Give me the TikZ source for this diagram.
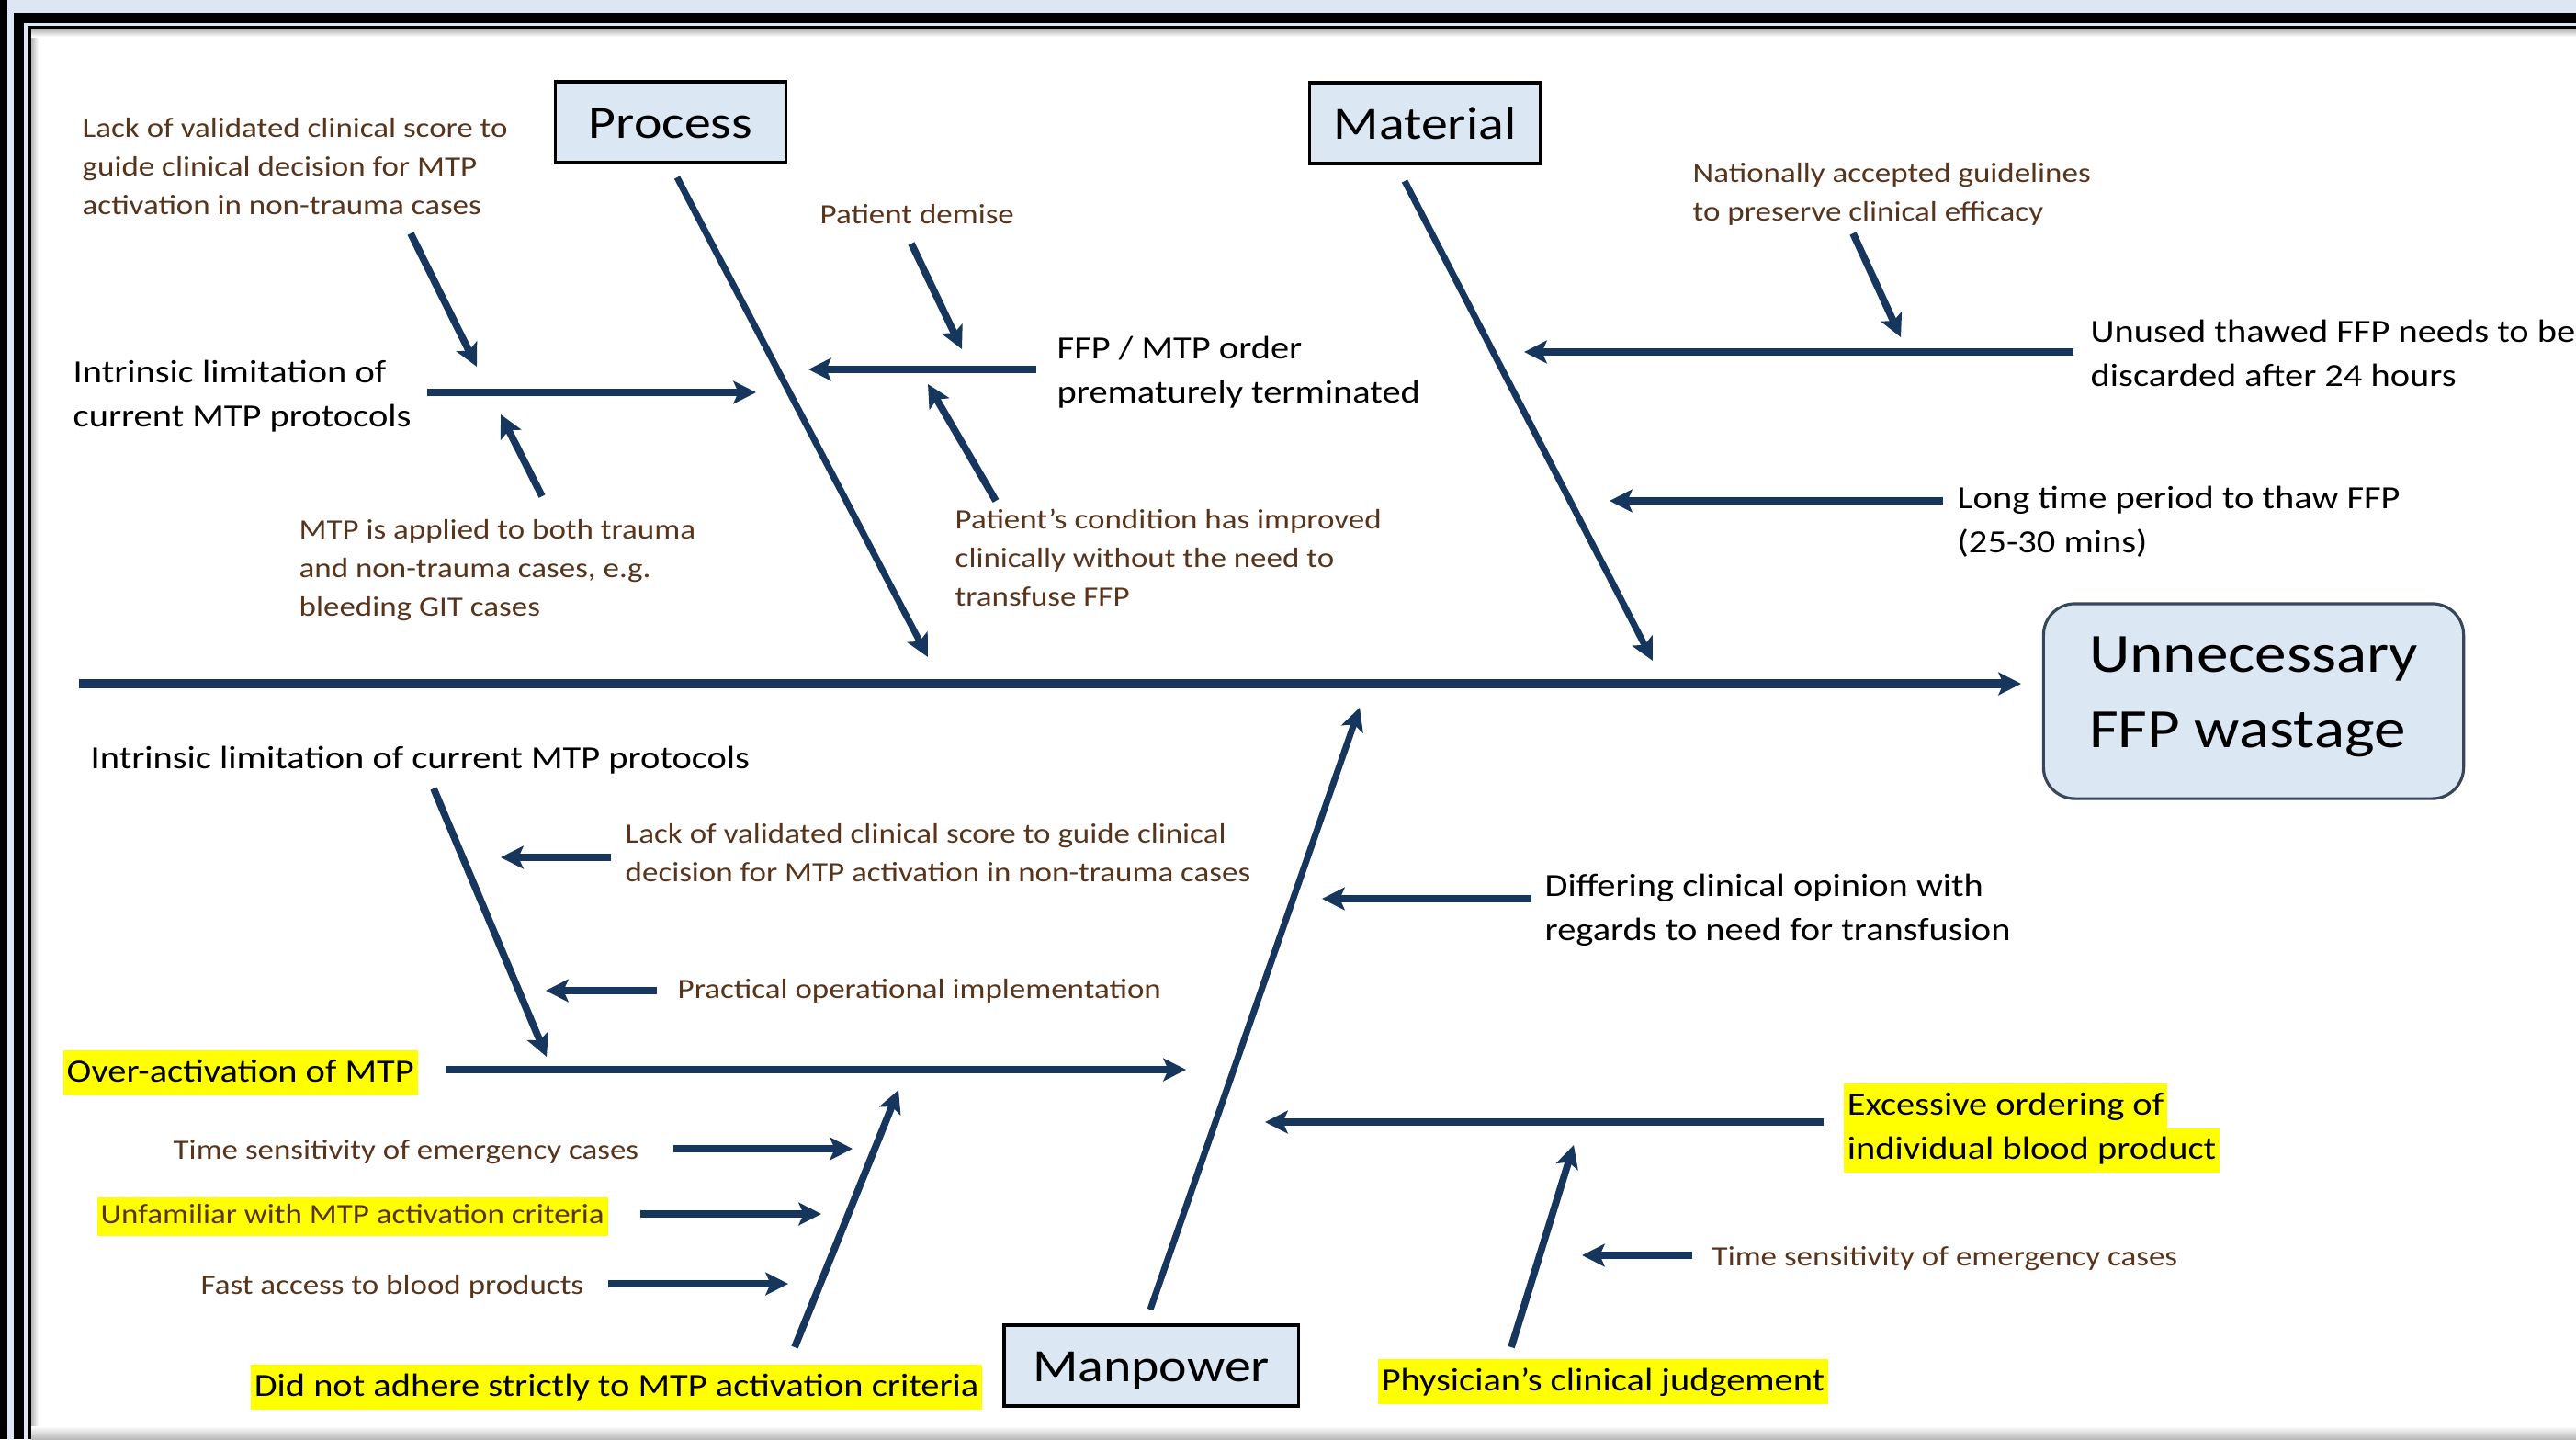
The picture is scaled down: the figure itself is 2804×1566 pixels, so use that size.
\documentclass[tikz,border=0pt]{standalone}
\usepackage{fontspec}
\setmainfont{Carlito}
\usepackage{graphicx}
\usetikzlibrary{arrows.meta}

\definecolor{bonenavy}{RGB}{23,54,93}
\definecolor{subbrown}{RGB}{88,52,28}
\definecolor{boxblue}{RGB}{220,231,244}
\definecolor{frameblue}{RGB}{221,231,243}
\definecolor{hlyellow}{RGB}{255,255,0}
\definecolor{effectline}{RGB}{55,70,88}

\newcommand{\causefont}{\fontsize{10}{13.7}\selectfont}
\newcommand{\subfont}{\fontsize{8.65}{11.95}\selectfont}
\newcommand{\catfont}{\fontsize{14.3}{17}\selectfont}
\newcommand{\effectfont}{\fontsize{17.1}{23.3}\selectfont}
\newcommand{\wtxt}[2][c]{\scalebox{1.15}[1]{\begin{tabular}[#1]{@{}l@{}}#2\end{tabular}}}
\newcommand{\hl}[1]{{\setlength{\fboxsep}{0pt}\colorbox{hlyellow}{\strut\hspace{1pt}#1\hspace{1pt}}}}

\begin{document}
\begin{tikzpicture}[x=0.01cm,y=-0.01cm,
    >={Stealth[length=7pt,width=7pt,inset=1.5pt]},
    spine/.style={draw=bonenavy,line width=2.6pt,->},
    bone/.style={draw=bonenavy,line width=2pt,->},
    arr/.style={draw=bonenavy,line width=2.2pt,->},
    causetxt/.style={font=\causefont,text=black,inner sep=0pt,anchor=west,yshift=-1pt},
    subtxt/.style={font=\subfont,text=subbrown,inner sep=0pt,anchor=west,yshift=-1pt},
    catbox/.style={draw=black,line width=0.9pt,fill=boxblue,font=\catfont,
                   text height=13.4pt,text depth=3.6pt,
                   minimum width=2.51cm,minimum height=0.88cm,inner sep=0pt},
    effectbox/.style={draw=effectline,line width=0.9pt,fill=boxblue,font=\effectfont,
                   text height=14.3pt,text depth=32.3pt,
                   rounded corners=0.34cm,minimum width=4.57cm,minimum height=2.12cm,inner sep=0pt}]
    \useasboundingbox (0,0) rectangle (2804,1566);

    % frame
    \fill[frameblue] (0,0) rectangle (2804,1566);
    \fill[black] (0,0) rectangle (8,1566);
    \fill[black] (15,14) rectangle (2804,25);
    \fill[black] (15,14) rectangle (26,1566);
    \fill[black] (30,28) rectangle (2804,32);
    \fill[black] (30,28) rectangle (34,1566);
    \fill[white] (34,32) rectangle (2804,1566);
    \shade[left color=gray!55,right color=white] (34,32) rectangle (42,1566);
    \shade[top color=gray!55,bottom color=white] (34,32) rectangle (2804,40);
    \shade[top color=white,bottom color=gray!55] (34,1552) rectangle (2804,1566);

    % head and categories
    \node[catbox] (process) at (730,133) {\wtxt[t]{Process}};
    \node[catbox] (material) at (1551,134) {\wtxt[t]{Material}};
    \node[catbox,minimum width=3.2cm] (manpower) at (1253,1486) {\wtxt[t]{Manpower}};
    \node[effectbox] (effect) at (2453,763) {\wtxt[t]{Unnecessary\\FFP wastage}};

    % process causes
    \node[subtxt] (p1a) at (89,180) {\wtxt{Lack of validated clinical score to\\guide clinical decision for MTP\\activation in non-trauma cases}};
    \node[causetxt] (p1) at (79,427) {\wtxt{Intrinsic limitation of\\current MTP protocols}};
    \node[subtxt] (p1b) at (325,617) {\wtxt{MTP is applied to both trauma\\and non-trauma cases, e.g.\\bleeding GIT cases}};
    \node[subtxt] (p2a) at (892,232) {\wtxt{Patient demise}};
    \node[causetxt] (p2) at (1150,401) {\wtxt{FFP / MTP order\\prematurely terminated}};
    \node[subtxt] (p2b) at (1039,606) {\wtxt{Patient’s condition has improved\\clinically without the need to\\transfuse FFP}};

    % material causes
    \node[subtxt] (m1a) at (1842,208) {\wtxt{Nationally accepted guidelines\\to preserve clinical efficacy}};
    \node[causetxt] (m1) at (2275,383) {\wtxt{Unused thawed FFP needs to be\\discarded after 24 hours}};
    \node[causetxt] (m2) at (2130,564) {\wtxt{Long time period to thaw FFP\\(25-30 mins)}};

    % manpower causes
    \node[causetxt] (mp1a) at (98,823) {\wtxt{Intrinsic limitation of current MTP protocols}};
    \node[subtxt] (mp1aa) at (680,927) {\wtxt{Lack of validated clinical score to guide clinical\\decision for MTP activation in non-trauma cases}};
    \node[subtxt] (mp1ab) at (737,1075) {\wtxt{Practical operational implementation}};
    \node[causetxt] (mp1) at (68,1164) {\wtxt{\hl{Over-activation of MTP}}};
    \node[subtxt] (mp1ba) at (188,1250) {\wtxt{Time sensitivity of emergency cases}};
    \node[subtxt] (mp1bb) at (105,1320) {\wtxt{\hl{Unfamiliar with MTP activation criteria}}};
    \node[subtxt] (mp1bc) at (218,1397) {\wtxt{Fast access to blood products}};
    \node[causetxt] (mp1b) at (272,1506) {\wtxt{\hl{Did not adhere strictly to MTP activation criteria}}};
    \node[causetxt] (mp2) at (1681,986) {\wtxt{Differing clinical opinion with\\regards to need for transfusion}};
    \node[causetxt] (mp3) at (2006,1224) {\wtxt{\hl{Excessive ordering of}\\\hl{individual blood product}}};
    \node[subtxt] (mp3aa) at (1863,1366) {\wtxt{Time sensitivity of emergency cases}};
    \node[causetxt] (mp3a) at (1499,1500) {\wtxt{\hl{Physician’s clinical judgement}}};

    % arrow ends
    \coordinate (spineS) at (86,744);
    \coordinate (spineE) at (2200,744);
    \coordinate (processS) at (737,193);
    \coordinate (processE) at (1010,715);
    \coordinate (materialS) at (1529,197);
    \coordinate (materialE) at (1799,719);
    \coordinate (manpowerS) at (1252,1425);
    \coordinate (manpowerE) at (1480,770);
    \coordinate (p1S) at (465,427);
    \coordinate (p1E) at (823,427);
    \coordinate (p1aS) at (447,254);
    \coordinate (p1aE) at (519,399);
    \coordinate (p1bS) at (590,540);
    \coordinate (p1bE) at (545,451);
    \coordinate (p2S) at (1128,402);
    \coordinate (p2E) at (880,402);
    \coordinate (p2aS) at (992,265);
    \coordinate (p2aE) at (1047,380);
    \coordinate (p2bS) at (1084,545);
    \coordinate (p2bE) at (1010,418);
    \coordinate (m1S) at (2257,383);
    \coordinate (m1E) at (1659,383);
    \coordinate (m1aS) at (2017,254);
    \coordinate (m1aE) at (2069,367);
    \coordinate (m2S) at (2115,545);
    \coordinate (m2E) at (1752,545);
    \coordinate (mp1S) at (485,1164);
    \coordinate (mp1E) at (1291,1164);
    \coordinate (mp1aS) at (472,858);
    \coordinate (mp1aE) at (595,1150);
    \coordinate (mp1aaS) at (665,933);
    \coordinate (mp1aaE) at (545,933);
    \coordinate (mp1abS) at (715,1078);
    \coordinate (mp1abE) at (594,1078);
    \coordinate (mp1bS) at (865,1466);
    \coordinate (mp1bE) at (978,1186);
    \coordinate (mp1baS) at (733,1250);
    \coordinate (mp1baE) at (928,1250);
    \coordinate (mp1bbS) at (697,1321);
    \coordinate (mp1bbE) at (894,1321);
    \coordinate (mp1bcS) at (662,1397);
    \coordinate (mp1bcE) at (858,1397);
    \coordinate (mp2S) at (1667,978);
    \coordinate (mp2E) at (1439,978);
    \coordinate (mp3S) at (1985,1221);
    \coordinate (mp3E) at (1377,1221);
    \coordinate (mp3aS) at (1645,1466);
    \coordinate (mp3aE) at (1713,1246);
    \coordinate (mp3aaS) at (1842,1366);
    \coordinate (mp3aaE) at (1722,1366);

    % connectors
    \draw[spine] (spineS) -- (spineE);
    \draw[bone] (processS) -- (processE);
    \draw[bone] (materialS) -- (materialE);
    \draw[bone] (manpowerS) -- (manpowerE);
    \draw[arr] (p1S) -- (p1E);
    \draw[arr] (p1aS) -- (p1aE);
    \draw[arr] (p1bS) -- (p1bE);
    \draw[arr] (p2S) -- (p2E);
    \draw[arr] (p2aS) -- (p2aE);
    \draw[arr] (p2bS) -- (p2bE);
    \draw[arr] (m1S) -- (m1E);
    \draw[arr] (m1aS) -- (m1aE);
    \draw[arr] (m2S) -- (m2E);
    \draw[arr] (mp1S) -- (mp1E);
    \draw[arr] (mp1aS) -- (mp1aE);
    \draw[arr] (mp1aaS) -- (mp1aaE);
    \draw[arr] (mp1abS) -- (mp1abE);
    \draw[arr] (mp1bS) -- (mp1bE);
    \draw[arr] (mp1baS) -- (mp1baE);
    \draw[arr] (mp1bbS) -- (mp1bbE);
    \draw[arr] (mp1bcS) -- (mp1bcE);
    \draw[arr] (mp2S) -- (mp2E);
    \draw[arr] (mp3S) -- (mp3E);
    \draw[arr] (mp3aS) -- (mp3aE);
    \draw[arr] (mp3aaS) -- (mp3aaE);
\end{tikzpicture}
\end{document}
